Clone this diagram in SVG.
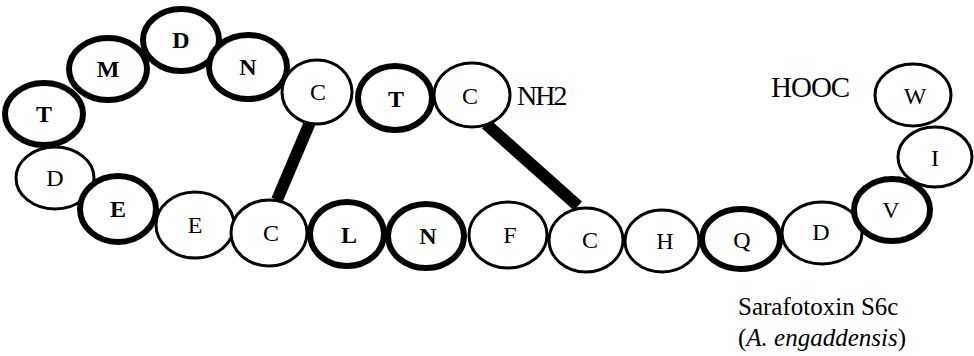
<svg xmlns="http://www.w3.org/2000/svg" width="974" height="356" viewBox="0 0 974 356">
<style>
.n{fill:#fff;stroke:#000;stroke-width:3}
.k{fill:#fff;stroke:#000;stroke-width:6}
text{font-family:'Liberation Serif','Times New Roman','DejaVu Serif',serif;fill:#000}
.t{font-size:24px;text-anchor:middle}
.b{font-weight:bold}
.ss{stroke:#000;stroke-width:12;stroke-linecap:butt}
</style>
<rect width="974" height="356" fill="#fff"/>
<g id="connectors">
<line class="ss" x1="311" y1="120" x2="277" y2="200"/>
<line class="ss" x1="486" y1="124" x2="578" y2="206"/>
</g>
<g id="n-T1"><ellipse class="k" cx="44" cy="114" rx="39" ry="31"/><text class="t b" x="44" y="122">T</text></g>
<g id="n-M"><ellipse class="k" cx="108" cy="69" rx="39" ry="31"/><text class="t b" x="108" y="77">M</text></g>
<g id="n-D1"><ellipse class="k" cx="181" cy="40" rx="38" ry="31"/><text class="t b" x="181" y="48">D</text></g>
<g id="n-N1"><ellipse class="k" cx="248" cy="67" rx="39" ry="32"/><text class="t b" x="248" y="75">N</text></g>
<g id="n-D2"><ellipse class="n" cx="55" cy="178" rx="39" ry="31"/><text class="t" x="55" y="186">D</text></g>
<g id="n-E1"><ellipse class="k" cx="118" cy="209" rx="38" ry="33"/><text class="t b" x="118" y="217">E</text></g>
<g id="n-E2"><ellipse class="n" cx="195" cy="225" rx="39" ry="33"/><text class="t" x="195" y="233">E</text></g>
<g id="n-C2"><ellipse class="n" cx="269" cy="233" rx="38" ry="33"/><text class="t" x="271" y="241">C</text></g>
<g id="n-L"><ellipse class="k" cx="347" cy="234" rx="37" ry="32"/><text class="t b" x="349" y="243">L</text></g>
<g id="n-N2"><ellipse class="k" cx="426" cy="236" rx="38" ry="32"/><text class="t b" x="428" y="244">N</text></g>
<g id="n-F"><ellipse class="n" cx="508" cy="235" rx="39" ry="33"/><text class="t" x="510" y="243">F</text></g>
<g id="n-C4"><ellipse class="n" cx="586" cy="240" rx="37" ry="32"/><text class="t" x="590" y="248">C</text></g>
<g id="n-H"><ellipse class="n" cx="662" cy="241" rx="37" ry="31"/><text class="t" x="665" y="249">H</text></g>
<g id="n-Q"><ellipse class="k" cx="741" cy="239" rx="39" ry="30"/><text class="t" x="742" y="248">Q</text></g>
<g id="n-D3"><ellipse class="n" cx="822" cy="233" rx="40" ry="31"/><text class="t" x="821" y="240">D</text></g>
<g id="n-V"><ellipse class="k" cx="892" cy="210" rx="38" ry="31"/><text class="t" x="891" y="218">V</text></g>
<g id="n-I"><ellipse class="n" cx="935" cy="157" rx="37" ry="30"/><text class="t" x="935" y="166">I</text></g>
<g id="n-W"><ellipse class="n" cx="913" cy="95" rx="38" ry="31"/><text class="t" x="915" y="104">W</text></g>
<g id="n-C1"><ellipse class="n" cx="317" cy="92" rx="35" ry="32"/><text class="t" x="318" y="100">C</text></g>
<g id="n-T2"><ellipse class="k" cx="395" cy="98" rx="37" ry="32"/><text class="t b" x="396" y="107">T</text></g>
<g id="n-C3"><ellipse class="n" cx="472" cy="95" rx="38" ry="32"/><text class="t" x="470" y="104">C</text></g>
<text x="517" y="105" font-size="28" letter-spacing="-2">NH2</text>
<text x="771" y="97" font-size="29" letter-spacing="-1">HOOC</text>
<text x="738" y="315" font-size="25">Sarafotoxin S6c</text>
<text x="738" y="346" font-size="25">(<tspan font-style="italic">A. engaddensis</tspan>)</text>
</svg>
